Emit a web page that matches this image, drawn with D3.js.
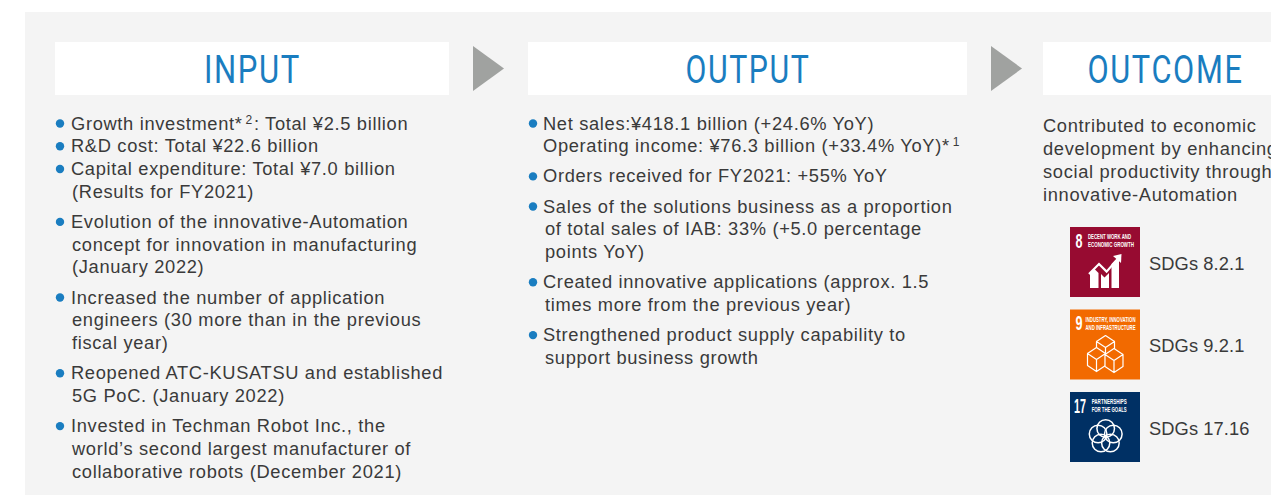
<!DOCTYPE html>
<html>
<head>
<meta charset="utf-8">
<script src="https://cdn.jsdelivr.net/npm/d3@7"></script>
<style>
  html, body { margin: 0; padding: 0; background: #fff; overflow: hidden; }
  svg { display: block; }
  text { font-family: "Liberation Sans", sans-serif; }
</style>
</head>
<body>
<svg id="chart" width="1271" height="495"></svg>
<script>
const titles = ["INPUT", "OUTPUT", "OUTCOME"];
const titleWidths = [97, 125, 156];

// each inner array is a run of bullets, each bullet is a list of lines
// "^" marks the superscript part of a line
const inputBullets = [
  [["Growth investment*^2^: Total ¥2.5 billion"],
   ["R&D cost: Total ¥22.6 billion"],
   ["Capital expenditure: Total ¥7.0 billion", "(Results for FY2021)"]],
  [["Evolution of the innovative-Automation", "concept for innovation in manufacturing", "(January 2022)"]],
  [["Increased the number of application", "engineers (30 more than in the previous", "fiscal year)"]],
  [["Reopened ATC-KUSATSU and established", "5G PoC. (January 2022)"]],
  [["Invested in Techman Robot Inc., the", "world’s second largest manufacturer of", "collaborative robots (December 2021)"]]
];
const outputBullets = [
  [["Net sales:¥418.1 billion (+24.6% YoY)", "Operating income: ¥76.3 billion (+33.4% YoY)*^1^"]],
  [["Orders received for FY2021: +55% YoY"]],
  [["Sales of the solutions business as a proportion", "of total sales of IAB: 33% (+5.0 percentage", "points YoY)"]],
  [["Created innovative applications (approx. 1.5", "times more from the previous year)"]],
  [["Strengthened product supply capability to", "support business growth"]]
];
const outcomeLines = [
  "Contributed to economic",
  "development by enhancing",
  "social productivity through",
  "innovative-Automation"
];
const sdgLabels = ["SDGs 8.2.1", "SDGs 9.2.1", "SDGs 17.16"];
const sdgNumbers = ["8", "9", "17"];
const sdgNames = [
  ["DECENT WORK AND", "ECONOMIC GROWTH"],
  ["INDUSTRY, INNOVATION", "AND INFRASTRUCTURE"],
  ["PARTNERSHIPS", "FOR THE GOALS"]
];
const sdgColors = ["#970b31", "#f26a00", "#003064"];

const blue = "#1a7dc0";
const ink = "#3a3a3a";
const grey = "#a0a2a0";

const svg = d3.select("#chart");

svg.append("rect").attr("x", 25).attr("y", 12).attr("width", 1246).attr("height", 483).attr("fill", "#f4f4f4");

// header boxes
const boxes = [{x: 55, w: 394}, {x: 528, w: 439}, {x: 1043, w: 228}];
const boxG = svg.selectAll("g.box").data(titles).enter().append("g").attr("class", "box");
boxG.append("rect")
  .attr("x", (d, i) => boxes[i].x).attr("y", 42)
  .attr("width", (d, i) => boxes[i].w).attr("height", 53)
  .attr("fill", "#fff");
boxG.append("text")
  .attr("x", (d, i) => i == 2 ? 1165.5 : boxes[i].x + boxes[i].w / 2 + 0.5)
  .attr("y", 82.5)
  .attr("text-anchor", "middle")
  .attr("fill", blue)
  .attr("textLength", (d, i) => titleWidths[i])
  .attr("lengthAdjust", "spacingAndGlyphs")
  .style("font-family", "Roboto")
  .style("font-size", "38px")
  .style("letter-spacing", "2px")
  .text(d => d);

// arrows between the columns
svg.selectAll("path.arrow").data([473, 991]).enter().append("path")
  .attr("class", "arrow")
  .attr("d", d => d3.line()([[d, 46], [d + 31, 68.5], [d, 91]]) + "Z")
  .attr("fill", grey);

const lineStep = 22.75;
const bulletGap = 7.4;
const fontSize = 18.3;

function addLine(g, str, x, y) {
  const t = g.append("text").attr("x", x).attr("y", y).attr("fill", ink)
    .style("font-size", fontSize + "px").style("letter-spacing", "0.67px");
  str.split("^").forEach(function(part, i) {
    const span = t.append("tspan").text(part);
    if (i == 1) span.attr("dy", -6).attr("dx", 3).style("font-size", "12px");
    if (i == 2) span.attr("dy", 6).attr("dx", 1);
  });
}

function drawColumn(groups, textX, dotX, startY, indent) {
  const g = svg.append("g");
  let y = startY;
  groups.forEach(function(group) {
    group.forEach(function(bullet) {
      g.append("circle").attr("cx", dotX).attr("cy", y - 6).attr("r", 4.2).attr("fill", blue);
      bullet.forEach(function(line, i) {
        // wrapped lines hang a little to the right, the income line does not
        const hang = i > 0 && !line.startsWith("Operating") ? indent : 0;
        addLine(g, line, textX + hang, y);
        y += lineStep;
      });
    });
    y += bulletGap;
  });
}

drawColumn(inputBullets, 71, 60, 129.5, 1);
drawColumn(outputBullets, 543, 533, 129.5, 2);

const outcome = svg.append("g");
outcomeLines.forEach(function(line, i) {
  addLine(outcome, line, 1043, 131.5 + i * 23);
});

// SDG tiles
const tileY = d3.scalePoint().domain(sdgLabels).range([227, 392]);
const tiles = svg.selectAll("g.tile").data(sdgLabels).enter().append("g")
  .attr("class", "tile")
  .attr("transform", d => "translate(1070," + tileY(d) + ")");
tiles.append("rect").attr("width", 70).attr("height", 70).attr("fill", (d, i) => sdgColors[i]);
tiles.append("text")
  .attr("x", (d, i) => i == 2 ? 4 : 5.5).attr("y", 20.5)
  .attr("fill", "#fff")
  .attr("textLength", (d, i) => i == 2 ? 12 : 7)
  .attr("lengthAdjust", "spacingAndGlyphs")
  .style("font-size", "20px").style("font-weight", 700)
  .text((d, i) => sdgNumbers[i]);
tiles.each(function(d, i) {
  const tile = d3.select(this);
  const nameX = [18, 15.5, 21.7][i];
  const nameW = [[43, 46], [50, 50], [35, 35]][i];
  sdgNames[i].forEach(function(n, j) {
    tile.append("text")
      .attr("x", nameX).attr("y", 12 + j * 8)
      .attr("fill", "#fff")
      .attr("textLength", nameW[j])
      .attr("lengthAdjust", "spacingAndGlyphs")
      .style("font-size", "8px").style("font-weight", 700)
      .text(n);
  });
});
d3.selectAll("g.tile").filter((d, i) => i == 0).call(function(s) {
  // growth chart icon
  s.append("path").attr("fill", "#fff")
    .attr("d", "M20 61V46l4.5-4 4 4v15zM31 61V47l3.5 3.5 4.5-4.5v15zM41.5 61V37l4-4h3.5v28z");
  s.append("path").attr("fill", "none").attr("stroke", "#fff").attr("stroke-width", 2.2)
    .attr("d", "M19 47l10-10 7.6 7.6 12-14");
  s.append("path").attr("fill", "#fff").attr("d", "M51.5 27l-.5 9-8-7z");
});
d3.selectAll("g.tile").filter((d, i) => i == 1).call(function(s) {
  // stacked cubes icon
  const cube = function(x, y) {
    return "M" + x + " " + y + "l9 -6 9 6 -9 6zM" + x + " " + y + "v12l9 6v-12zM" + (x + 18) + " " + y + "v12l-9 6v-12z";
  };
  s.selectAll("path").data([[26.5, 32], [17.5, 44], [35, 45]]).enter().append("path")
    .attr("d", d => cube(d[0], d[1]))
    .attr("fill", "#f26a00").attr("stroke", "#fff").attr("stroke-width", 1.2).attr("stroke-linejoin", "round");
});
d3.selectAll("g.tile").filter((d, i) => i == 2).call(function(s) {
  // five overlapping rings
  const rings = d3.range(5).map(i => i / 5 * 2 * Math.PI);
  s.selectAll("circle").data(rings).enter().append("circle")
    .attr("cx", d => 35.7 + 8 * Math.sin(d))
    .attr("cy", d => 44.5 - 8 * Math.cos(d))
    .attr("r", 8.8)
    .attr("fill", "none").attr("stroke", "#fff").attr("stroke-width", 1.5);
});
svg.selectAll("text.sdg").data(sdgLabels).enter().append("text")
  .attr("class", "sdg")
  .attr("x", 1149)
  .attr("y", d => tileY(d) + 42.5)
  .attr("fill", ink)
  .style("font-size", fontSize + "px")
  .style("letter-spacing", "0.1px")
  .text(d => d);
</script>
</body>
</html>
